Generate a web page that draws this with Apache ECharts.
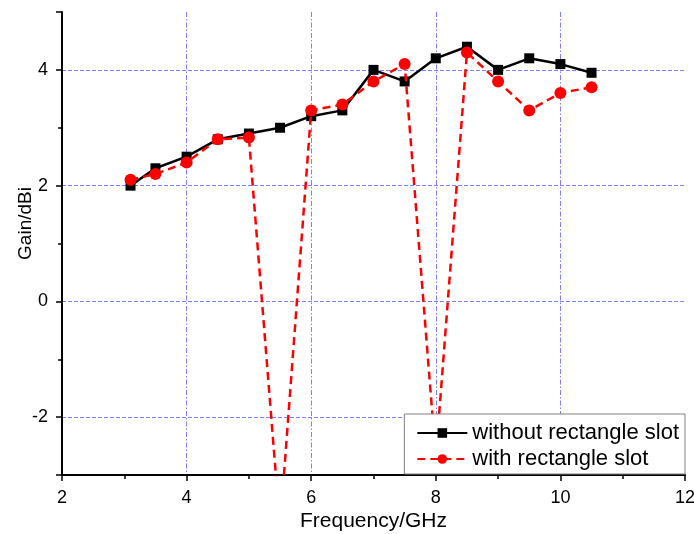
<!DOCTYPE html>
<html>
<head>
<meta charset="utf-8">
<script src="https://cdn.jsdelivr.net/npm/echarts@6/dist/echarts.min.js"></script>
<style>html,body{margin:0;padding:0;background:#fff;}#c{width:694px;height:534px;}</style>
</head>
<body>
<div id="c"></div>
<script>
var freq = [3.1, 3.5, 4, 4.5, 5, 5.5, 6, 6.5, 7, 7.5, 8, 8.5, 9, 9.5, 10, 10.5];
var gainWithout = [2.0, 2.3, 2.5, 2.8, 2.9, 3.0, 3.2, 3.3, 4.0, 3.8, 4.2, 4.4, 4.0, 4.2, 4.1, 3.95];
var gainWith = [2.1, 2.2, 2.4, 2.8, 2.83, -3.9, 3.3, 3.4, 3.8, 4.1, -2.7, 4.3, 3.8, 3.3, 3.6, 3.7];
var seriesNames = ['without rectangle slot', 'with rectangle slot'];
var xName = 'Frequency/GHz';
var yName = 'Gain/dBi';

function pairs(xs, ys) { return xs.map(function (x, i) { return [x, ys[i]]; }); }

var font = 'Liberation Sans, Arial, sans-serif';
var gridColor = '#8080ff';
var chart = echarts.init(document.getElementById('c'), null, {renderer: 'canvas'});
chart.setOption({
  animation: false,
  backgroundColor: '#fff',
  grid: {left: 62, right: 9, top: 12, bottom: 59, containLabel: false, outerBoundsMode: 'none'},
  legend: {
    orient: 'vertical',
    right: 9, bottom: 60,
    z: 20,
    backgroundColor: '#fff',
    borderColor: '#808080', borderWidth: 1,
    padding: [8, 6, 4, 12],
    itemGap: 4,
    itemWidth: 50, itemHeight: 12,
    textStyle: {fontFamily: font, fontSize: 22, color: '#000'},
    data: seriesNames
  },
  xAxis: {
    type: 'value', min: 2, max: 12, interval: 2,
    name: xName, nameLocation: 'middle', nameGap: 36, nameMoveOverlap: false,
    nameTextStyle: {fontFamily: font, fontSize: 21, color: '#000'},
    axisLine: {show: true, onZero: false, lineStyle: {color: '#000', width: 2}},
    axisTick: {show: true, inside: false, length: 6, lineStyle: {color: '#000', width: 1.5}},
    minorTick: {show: true, splitNumber: 2, length: 4, lineStyle: {color: '#000', width: 1.5}},
    axisLabel: {fontFamily: font, fontSize: 18, color: '#000', margin: 14, hideOverlap: false},
    splitLine: {show: true, showMinLine: false, showMaxLine: false,
      lineStyle: {color: gridColor, width: 1, type: [5, 2, 1.5, 2]}}
  },
  yAxis: {
    type: 'value', min: -3, max: 5, splitNumber: 4,
    name: yName, nameLocation: 'middle', nameGap: 27, nameRotate: 90, nameMoveOverlap: false,
    nameTextStyle: {fontFamily: font, fontSize: 19, color: '#000', padding: [0, 0, 0, 40]},
    axisLine: {show: true, onZero: false, lineStyle: {color: '#000', width: 2}},
    axisTick: {show: true, inside: false, length: 6, lineStyle: {color: '#000', width: 1.5}},
    minorTick: {show: true, splitNumber: 2, length: 4, lineStyle: {color: '#000', width: 1.5}},
    axisLabel: {fontFamily: font, fontSize: 18, color: '#000', margin: 14,
      showMinLabel: false, showMaxLabel: false},
    splitLine: {show: true, showMinLine: false, showMaxLine: false,
      lineStyle: {color: gridColor, width: 1, type: [4, 2]}}
  },
  series: [
    {
      name: seriesNames[0], type: 'line', data: pairs(freq, gainWithout),
      symbol: 'rect', symbolSize: 10,
      itemStyle: {color: '#000'},
      lineStyle: {color: '#000', width: 2.5},
      clip: true, z: 2
    },
    {
      name: seriesNames[1], type: 'line', data: pairs(freq, gainWith),
      symbol: 'circle', symbolSize: 12,
      itemStyle: {color: '#ff0000'},
      lineStyle: {color: '#ff0000', width: 2.5, type: [8, 5]},
      clip: true, z: 3
    }
  ]
});
</script>
</body>
</html>
